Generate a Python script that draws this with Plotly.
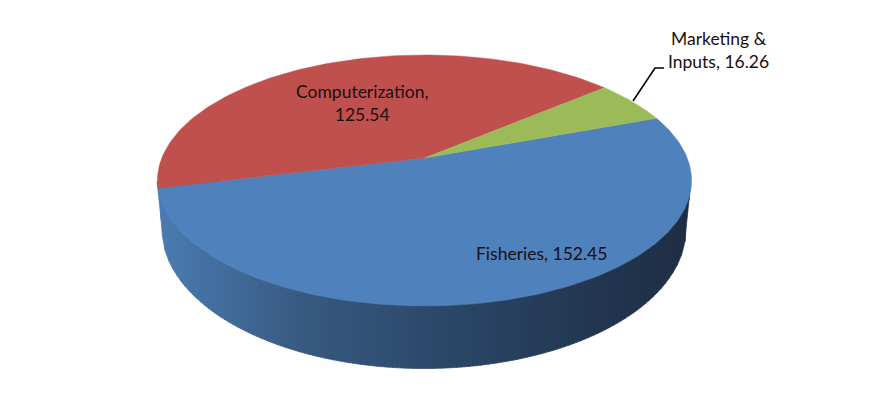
import math
import plotly.graph_objects as go

categories = ["Fisheries", "Computerization", "Marketing &<br>Inputs"]
values = [152.45, 125.54, 16.26]
colors = ["#4f81bd", "#c0504d", "#9bbb59"]
side_stops = [(157, (74, 124, 178)), (300, (56, 90, 130)), (424, (45, 74, 108)),
              (600, (34, 54, 80)), (691, (30, 46, 68))]

W, H = 874, 403
APEX_X, APEX_Y = 424.5, 158
RX, RY, K = 262.7, 121.5, 0.1793
START_DEG = 20.3
BOT_CX, BOT_CY, BOT_RX, BOT_RY = 424, 229, 262, 139.5


def rim(deg):
    a = math.radians(deg)
    d = 1 + K * math.sin(a)
    return APEX_X + RX * math.cos(a) / d, APEX_Y - RY * math.sin(a) / d


def side_color(x):
    for (x0, c0), (x1, c1) in zip(side_stops, side_stops[1:]):
        if x <= x1:
            f = (x - x0) / (x1 - x0)
            return "rgb(%d,%d,%d)" % tuple(round(a + (b - a) * f) for a, b in zip(c0, c1))
    return "rgb(%d,%d,%d)" % side_stops[-1][1]


def side_bottom(x):
    dx = x - BOT_CX
    if abs(dx) <= BOT_RX:
        return BOT_CY + BOT_RY * math.sqrt(1 - (dx / BOT_RX) ** 2)
    return BOT_CY - (abs(dx) - BOT_RX) / 5 * 48


fig = go.Figure()

# extruded side, built as narrow strips to give the horizontal shading
STEP = 4
x = 157
while x < 691:
    x1 = min(x + STEP, 691)
    xs = [x + i * (x1 - x) / 3 for i in range(4)]
    fig.add_trace(go.Scatter(
        x=[xs[0]] + xs + [xs[-1]],
        y=[181] + [side_bottom(v) for v in xs] + [181],
        mode="lines", fill="toself", fillcolor=side_color((x + x1) / 2),
        line=dict(color=side_color((x + x1) / 2), width=0.7),
        hoverinfo="skip", showlegend=False))
    x = x1

# top face: wedges sized from the values, clockwise from the start angle
total = sum(values)
angle = START_DEG
for cat, val, col in zip(categories, values, colors):
    span = val / total * 360
    n = max(8, int(span))
    pts = [rim(angle - span * i / n) for i in range(n + 1)]
    fig.add_trace(go.Scatter(
        x=[APEX_X] + [p[0] for p in pts] + [APEX_X],
        y=[APEX_Y] + [p[1] for p in pts] + [APEX_Y],
        mode="lines", fill="toself", fillcolor=col,
        line=dict(color=col, width=0.5),
        name=cat.replace("<br>", " "), hoverinfo="name", showlegend=False))
    angle -= span

# leader line for the small slice
fig.add_trace(go.Scatter(x=[633, 655, 664], y=[101, 68, 68], mode="lines",
                         line=dict(color="#000000", width=1.6),
                         hoverinfo="skip", showlegend=False))

label_pos = [(541, 253), (362, 103), (718, 50)]
for cat, val, (lx, ly) in zip(categories, values, label_pos):
    sep = "<br>" if cat == "Computerization" else " "
    text = f"{cat},{sep}{val}"
    fig.add_annotation(x=lx, y=ly, text=text, showarrow=False, align="center",
                       font=dict(family="Lato", size=17.5, color="#1a1010"))

fig.update_xaxes(range=[0, W], visible=False, fixedrange=True)
fig.update_yaxes(range=[H, 0], visible=False, fixedrange=True)
fig.update_layout(width=W, height=H, margin=dict(l=0, r=0, t=0, b=0),
                  paper_bgcolor="white", plot_bgcolor="white")
fig.write_html("out.html", config={"displayModeBar": False},
               post_script="document.body.style.margin='0';")
